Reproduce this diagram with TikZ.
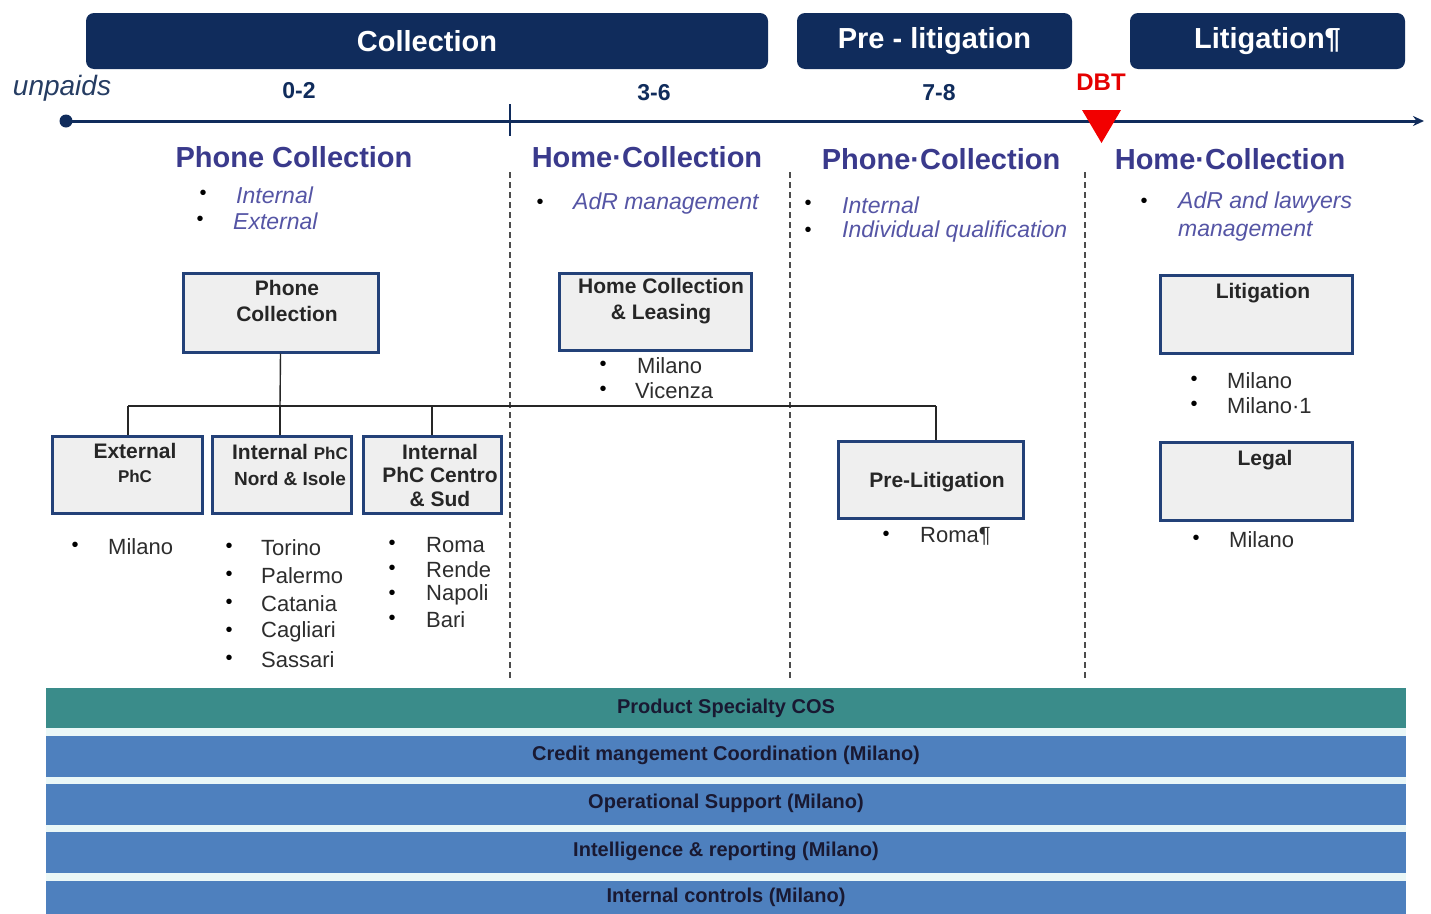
\documentclass[tikz,border=0pt]{standalone}
\usepackage{fontspec}
\setmainfont{Liberation Sans}
\usetikzlibrary{arrows.meta}
\definecolor{navy}{RGB}{16,44,92}
\definecolor{head}{RGB}{58,58,140}
\definecolor{bul}{RGB}{85,85,165}
\definecolor{boxb}{RGB}{35,65,120}
\definecolor{boxf}{RGB}{239,239,239}
\definecolor{tealbar}{RGB}{58,140,138}
\definecolor{barblue}{RGB}{78,128,190}
\definecolor{txt}{RGB}{45,45,45}
\definecolor{bartxt}{RGB}{25,25,50}
\definecolor{gapc}{RGB}{234,247,247}
\newcommand\fsz[2]{\fontsize{#1}{#2}\selectfont}
\tikzset{
  phase/.style={fill=navy, rounded corners=8pt, inner sep=0pt, text=white, font=\fsz{29pt}{34pt}\bfseries},
  rng/.style={text=navy, font=\fsz{23pt}{27pt}\bfseries, inner sep=0pt},
  sechead/.style={text=head, font=\fsz{29pt}{34pt}\bfseries, inner sep=0pt},
  ital/.style={text=bul, font=\fsz{23pt}{28pt}\itshape, anchor=west, inner sep=0pt},
  dot/.style={text=black, font=\fsz{20pt}{24pt}, inner sep=0pt},
  city/.style={text=txt, font=\fsz{22pt}{26pt}, anchor=west, inner sep=0pt},
  orgbox/.style={draw=boxb, line width=3pt, fill=boxf, inner sep=0pt},
  boxtxt/.style={text=black!85, font=\fsz{21pt}{26pt}\bfseries, align=center, inner sep=0pt},
  sep/.style={draw=black!70, line width=1.8pt, dash pattern=on 6pt off 4pt},
  conn/.style={draw=black!85, line width=1.4pt},
  bar/.style={inner sep=0pt, text=bartxt, font=\fsz{20pt}{24pt}\bfseries},
}
\begin{document}
\begin{tikzpicture}[x=1pt,y=-1pt]
\useasboundingbox (0,0) rectangle (1431,913);
\fill[white] (0,0) rectangle (1431,913);

% phase bars
\node[phase, minimum width=682pt, minimum height=56pt] (coll) at (427,41) {Collection};
\node[phase, minimum width=275pt, minimum height=56pt] (prelit) at (934.5,41) {Pre - litigation};
\node[phase, minimum width=275pt, minimum height=56pt] (lit) at (1267.5,41) {Litigation¶};

% timeline
\node[text=navy!80!gray, font=\fsz{28pt}{32pt}\itshape, inner sep=0pt] (unp) at (62,88) {unpaids};
\node[rng] (r1) at (299,91) {0-2};
\node[rng] (r2) at (654,93) {3-6};
\node[rng] (r3) at (939,93) {7-8};
\node[text=red!90!black, font=\fsz{24pt}{28pt}\bfseries, inner sep=0pt] (dbt) at (1101,82) {DBT};
\node[circle, fill=navy, inner sep=0pt, minimum size=13pt] (t0) at (66,121) {};
\coordinate (tend) at (1424,121);
\draw[navy, line width=3pt, -{Stealth[length=11pt,width=10pt]}] (t0.center) -- (tend);
\coordinate (tk1) at (510,104);
\coordinate (tk2) at (510,136);
\draw[navy, line width=2pt] (tk1) -- (tk2);
\fill[red!95!black] (1082,110) -- (1121,110) -- (1101.5,143) -- cycle;

% separators
\coordinate (s1a) at (510,172); \coordinate (s1b) at (510,680);
\coordinate (s2a) at (790,172); \coordinate (s2b) at (790,680);
\coordinate (s3a) at (1085,172); \coordinate (s3b) at (1085,680);
\draw[sep] (s1a) -- (s1b);
\draw[sep] (s2a) -- (s2b);
\draw[sep] (s3a) -- (s3b);

% section headings
\node[sechead] (h1) at (294,157) {Phone Collection};
\node[sechead] (h2) at (647,157) {Home·Collection};
\node[sechead] (h3) at (941,159) {Phone·Collection};
\node[sechead] (h4) at (1230,159) {Home·Collection};

% italic bullets
\node[dot] (b1) at (203,195) {•}; \node[ital] (i1) at (236,195) {Internal};
\node[dot] (b2) at (200,221) {•}; \node[ital] (i2) at (233,221) {External};
\node[dot] (b3) at (540,204) {•}; \node[ital] (i3) at (573,204) {AdR management};
\node[dot] (b4) at (808,205) {•}; \node[ital] (i4) at (842,205) {Internal};
\node[dot] (b5) at (808,232) {•}; \node[ital] (i5) at (842,232) {Individual qualification};
\node[dot] (b6) at (1144,203) {•}; \node[ital] (i6) at (1178,203) {AdR and lawyers};
\node[ital] (i7) at (1178,231) {management};

% org boxes
\node[orgbox, minimum width=195pt, minimum height=79pt] (pc) at (280.5,312.5) {};
\node[boxtxt] (pct) at (287,301) {Phone\\Collection};
\node[orgbox, minimum width=192pt, minimum height=77pt] (hc) at (655,311.5) {};
\node[boxtxt] (hct) at (661,301) {Home Collection\\\& Leasing};
\node[orgbox, minimum width=150pt, minimum height=77pt] (ext) at (127,474.5) {};
\node[boxtxt] (extt) at (135,451) {External};
\node[boxtxt, font=\fsz{17pt}{20pt}\bfseries] (extt2) at (135,476) {PhC};
\node[orgbox, minimum width=139pt, minimum height=77pt] (inn) at (281.5,474.5) {};
\node[boxtxt] (innt) at (290,465) {Internal {\fsz{17pt}{20pt}PhC}\\{\fsz{19pt}{24pt}Nord \& Isole}};
\node[orgbox, minimum width=138pt, minimum height=77pt] (inc) at (432,474.5) {};
\node[boxtxt, font=\fsz{21pt}{23.5pt}\bfseries] (inct) at (440,475) {Internal\\PhC Centro\\\& Sud};
\node[orgbox, minimum width=185pt, minimum height=77pt] (pl) at (930.5,479.5) {};
\node[boxtxt] (plt) at (937,482) {Pre-Litigation};
\node[orgbox, minimum width=192pt, minimum height=78pt] (lb) at (1256,314) {};
\node[boxtxt] (lbt) at (1263,293) {Litigation};
\node[orgbox, minimum width=192pt, minimum height=78pt] (lg) at (1256,481) {};
\node[boxtxt] (lgt) at (1265,460) {Legal};

% connectors
\coordinate (j0) at (280,406);
\coordinate (j1) at (128,406);
\coordinate (j2) at (432,406);
\coordinate (j3) at (936,406);
\draw[conn] (pc.south) -- (j0);
\draw[conn] (j1) -- (j3);
\draw[conn] (j1) -- (j1 |- ext.north);
\draw[conn] (j0) -- (j0 |- inn.north);
\draw[conn] (j2) -- (j2 |- inc.north);
\draw[conn] (j3) -- (j3 |- pl.north);

% city lists
\node[dot] (c1b) at (75,547) {•}; \node[city] (c1) at (108,547) {Milano};
\node[dot] (c2b) at (229,548) {•}; \node[city] (c2) at (261,548) {Torino};
\node[dot] (c3b) at (229,576) {•}; \node[city] (c3) at (261,576) {Palermo};
\node[dot] (c4b) at (229,604) {•}; \node[city] (c4) at (261,604) {Catania};
\node[dot] (c5b) at (229,632) {•}; \node[city] (c5) at (261,632) {Cagliari};
\node[dot] (c6b) at (229,660) {•}; \node[city] (c6) at (261,660) {Sassari};
\node[dot] (c7b) at (392,545) {•}; \node[city] (c7) at (426,545) {Roma};
\node[dot] (c8b) at (392,570) {•}; \node[city] (c8) at (426,570) {Rende};
\node[dot] (c9b) at (392,595) {•}; \node[city] (c9) at (426,595) {Napoli};
\node[dot] (c10b) at (392,620) {•}; \node[city] (c10) at (426,620) {Bari};
\node[dot] (c11b) at (603,366) {•}; \node[city] (c11) at (637,366) {Milano};
\node[dot] (c12b) at (603,391) {•}; \node[city] (c12) at (635,391) {Vicenza};
\node[dot] (c13b) at (886,536) {•}; \node[city] (c13) at (920,536) {Roma¶};
\node[dot] (c14b) at (1194,381) {•}; \node[city] (c14) at (1227,381) {Milano};
\node[dot] (c15b) at (1194,406) {•}; \node[city] (c15) at (1227,406) {Milano·1};
\node[dot] (c16b) at (1196,540) {•}; \node[city] (c16) at (1229,540) {Milano};

% bottom bars
\fill[gapc] (46,728) rectangle (1406,913);
\node[bar, fill=tealbar, minimum width=1360pt, minimum height=40pt] (p1) at (726,708) {Product Specialty COS};
\node[bar, fill=barblue, minimum width=1360pt, minimum height=41pt] (p2) at (726,756.5) {\raisebox{6pt}{Credit mangement Coordination (Milano)}};
\node[bar, fill=barblue, minimum width=1360pt, minimum height=41pt] (p3) at (726,804.5) {\raisebox{6pt}{Operational Support (Milano)}};
\node[bar, fill=barblue, minimum width=1360pt, minimum height=41pt] (p4) at (726,852.5) {\raisebox{6pt}{Intelligence \& reporting (Milano)}};
\node[bar, fill=barblue, minimum width=1360pt, minimum height=33pt] (p5) at (726,897.5) {\raisebox{3pt}{Internal controls (Milano)}};
\end{tikzpicture}
\end{document}
